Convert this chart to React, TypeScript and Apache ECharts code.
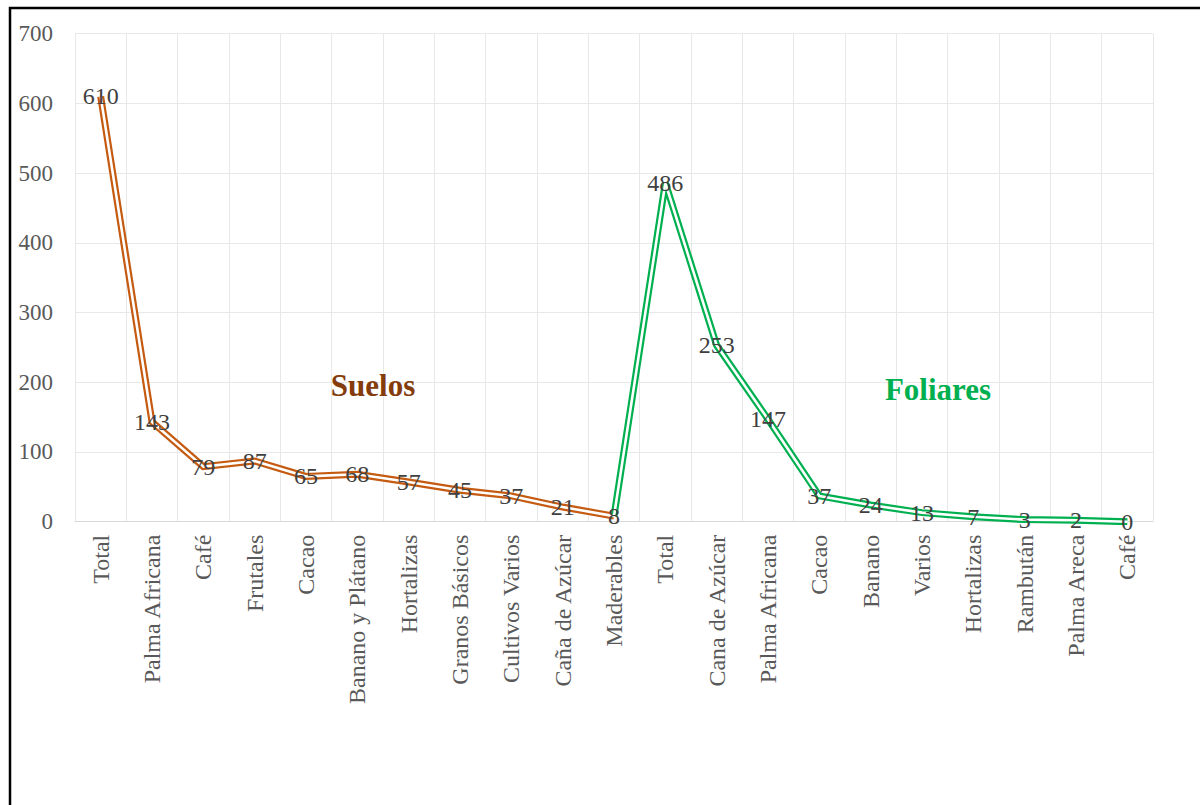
import React, { useEffect, useRef } from "react";
import * as echarts from "echarts";

// Category labels along the x axis (soil analyses first, then foliar analyses)
const categories: string[] = [
  "Total", "Palma Africana", "Café", "Frutales", "Cacao", "Banano y Plátano",
  "Hortalizas", "Granos Básicos", "Cultivos Varios", "Caña de Azúcar", "Maderables",
  "Total", "Cana de Azúcar", "Palma Africana", "Cacao", "Banano", "Varios",
  "Hortalizas", "Rambután", "Palma Areca", "Café",
];

// Soil samples per crop (indices 0..10)
const suelosValues: number[] = [610, 143, 79, 87, 65, 68, 57, 45, 37, 21, 8];

// Foliar samples per crop (indices 11..20)
const foliaresValues: number[] = [486, 253, 147, 37, 24, 13, 7, 3, 2, 0];

const yTicks: number[] = [0, 100, 200, 300, 400, 500, 600, 700];

const ORANGE = "#c55a11";
const GREEN = "#00b050";
const FONT = "'Liberation Serif', 'Times New Roman', serif";

export default function App() {
  const ref = useRef<HTMLDivElement>(null);

  useEffect(() => {
    if (!ref.current) return;
    const chart = echarts.init(ref.current, undefined, { renderer: "svg" });

    const suelosData: (number | null)[] = categories.map((_, i) =>
      i < suelosValues.length ? suelosValues[i] : null
    );
    // foliar line starts from the last soil point so the two curves join
    const joinIdx = suelosValues.length - 1;
    const foliaresData: any[] = categories.map((_, i) => {
      if (i === joinIdx) return { value: suelosValues[joinIdx], label: { show: false } };
      if (i > joinIdx) return foliaresValues[i - joinIdx - 1];
      return null;
    });

    const labelStyle = {
      show: true,
      position: "inside" as const,
      color: "#404040",
      fontFamily: FONT,
      fontSize: 24,
    };

    // thick coloured stroke
    const outer = (name: string, data: any[], color: string) => ({
      name,
      type: "line",
      data,
      symbol: "none",
      silent: true,
      lineStyle: { color, width: 7, join: "miter" },
      z: 2,
    });

    // thin white stroke on top, giving the double-line look; carries the value labels
    const inner = (name: string, data: any[]) => ({
      name,
      type: "line",
      data,
      symbol: "circle",
      symbolSize: 1,
      showSymbol: true,
      itemStyle: { color: "#ffffff" },
      lineStyle: { color: "#ffffff", width: 2.6 },
      label: labelStyle,
      silent: true,
      z: 3,
    });

    chart.setOption({
      animation: false,
      backgroundColor: "#ffffff",
      grid: { left: 75, right: 47, top: 33.7, bottom: 283.3, containLabel: false },
      xAxis: {
        type: "category",
        data: categories,
        boundaryGap: true,
        axisLine: { show: true, lineStyle: { color: "#d9d9d9", width: 1 } },
        axisTick: { show: false },
        axisLabel: {
          interval: 0,
          rotate: 90,
          margin: 13,
          color: "#595959",
          fontFamily: FONT,
          fontSize: 24,
        },
        splitLine: { show: true, interval: 0, lineStyle: { color: "#e8e8e8", width: 1 } },
      },
      yAxis: {
        type: "value",
        min: yTicks[0],
        max: yTicks[yTicks.length - 1],
        interval: 100,
        axisLine: { show: false },
        axisTick: { show: false },
        axisLabel: {
          margin: 22,
          color: "#595959",
          fontFamily: FONT,
          fontSize: 23,
        },
        splitLine: { show: true, lineStyle: { color: "#e8e8e8", width: 1 } },
      },
      series: [
        outer("Suelos", suelosData, ORANGE),
        outer("Foliares", foliaresData, GREEN),
        inner("Suelos-inner", suelosData),
        inner("Foliares-inner", foliaresData),
      ],
      graphic: [
        {
          type: "rect",
          shape: { x: 10, y: 8, width: 1220, height: 830 },
          style: { fill: "none", stroke: "#000000", lineWidth: 2.5 },
          silent: true,
          z: 10,
        },
        {
          type: "text",
          x: 373,
          y: 385,
          style: {
            text: "Suelos",
            fill: "#843c0c",
            font: `bold 31px ${FONT}`,
            align: "center",
            verticalAlign: "middle",
          },
          z: 10,
        },
        {
          type: "text",
          x: 938,
          y: 389,
          style: {
            text: "Foliares",
            fill: GREEN,
            font: `bold 31px ${FONT}`,
            align: "center",
            verticalAlign: "middle",
          },
          z: 10,
        },
      ],
    });

    return () => chart.dispose();
  }, []);

  return (
    <div
      ref={ref}
      style={{ position: "fixed", left: 0, top: 0, width: 1200, height: 805 }}
    />
  );
}
